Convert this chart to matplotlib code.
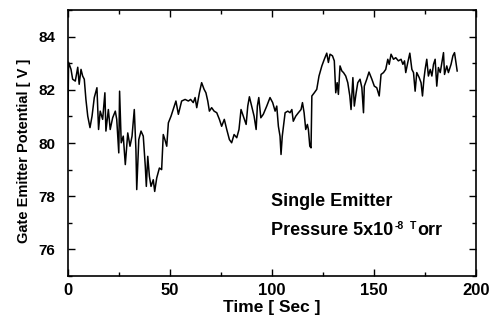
import matplotlib
matplotlib.use("Agg")
import matplotlib.pyplot as plt
from matplotlib.ticker import MultipleLocator

plt.rcParams['font.family'] = ['Liberation Sans', 'DejaVu Sans']

# time [s] and gate-emitter potential [V]
time_s = [0.0, 0.3, 1.5, 2.3, 3.6, 4.8, 5.5, 6.4, 7.2, 8.0, 8.8, 9.7, 10.8, 11.8,
          12.9, 14.2, 15.0, 15.8, 17.0, 18.1, 18.6, 19.8, 20.7, 21.9, 23.2, 23.9,
          24.9, 25.3, 26.1, 27.1, 28.1, 29.3, 30.4, 31.4, 32.5, 33.3, 33.7, 34.7,
          35.8, 36.9, 37.9, 38.4, 39.1, 39.9, 40.7, 41.8, 42.5, 43.5, 44.8, 45.9,
          46.7, 47.5, 48.4, 49.2, 50.5, 52.1, 52.9, 54.1, 55.7, 57.4, 59.0, 60.1,
          61.4, 62.3, 63.1, 64.4, 65.5, 66.7, 67.6, 68.5, 69.3, 70.4, 71.6, 72.9,
          74.2, 75.3, 76.6, 77.8, 79.1, 80.2, 81.4, 82.7, 83.8, 84.8, 85.9, 87.3,
          88.1, 88.9, 90.0, 91.2, 92.2, 92.8, 93.5, 94.5, 95.7, 97.4, 99.0, 100.3,
          101.5, 102.3, 103.1, 103.9, 104.4, 105.0, 106.4, 107.7, 108.8, 109.7,
          110.4, 111.6, 112.9, 114.2, 114.9, 115.7, 116.5, 117.3, 117.8, 118.5,
          119.1, 119.5, 120.7, 121.9, 123.0, 124.4, 125.6, 126.8, 127.6, 128.4,
          129.6, 130.5, 131.2, 131.9, 132.5, 133.3, 134.2, 135.0, 136.1, 137.1,
          138.1, 138.7, 139.6, 140.3, 141.2, 142.0, 143.1, 144.0, 144.8, 145.2,
          146.4, 147.5, 148.9, 150.1, 151.3, 152.5, 153.4, 154.6, 155.7, 156.7,
          157.4, 158.3, 159.5, 160.6, 161.9, 163.2, 164.1, 164.9, 165.5, 166.5,
          167.5, 168.5, 169.3, 170.1, 170.9, 172.1, 173.0, 173.7, 174.4, 175.0,
          175.8, 176.6, 177.5, 178.3, 179.1, 179.9, 180.7, 181.5, 182.4, 183.2,
          184.0, 184.5, 185.6, 186.4, 187.7, 188.6, 189.4, 190.0, 190.7]
potential_v = [81.0, 83.04, 82.77, 82.40, 82.33, 82.85, 82.21, 82.77, 82.52, 82.40,
               81.64, 81.01, 80.58, 81.01, 81.71, 82.08, 80.51, 81.20, 80.89, 81.89,
               80.45, 81.26, 80.51, 80.95, 81.20, 80.89, 79.63, 81.95, 80.01, 80.26,
               79.19, 80.38, 79.88, 80.26, 81.26, 79.75, 78.25, 80.13, 80.45, 80.26,
               79.12, 78.37, 79.50, 78.75, 78.37, 78.62, 78.18, 78.69, 79.06, 79.00,
               80.32, 80.13, 79.88, 80.76, 81.01, 81.39, 81.58, 81.08, 81.58, 81.64,
               81.58, 81.64, 81.52, 81.71, 81.33, 81.89, 82.27, 82.02, 81.89, 81.58,
               81.20, 81.33, 81.20, 81.14, 80.89, 80.63, 80.89, 80.51, 80.13, 80.01,
               80.32, 80.20, 80.51, 81.26, 81.01, 80.70, 81.39, 81.74, 81.39, 81.01,
               80.51, 81.39, 81.71, 80.95, 81.08, 81.39, 81.71, 81.52, 81.20, 81.39,
               80.63, 80.26, 79.57, 80.26, 81.14, 81.20, 81.14, 81.26, 80.82, 81.01,
               81.14, 81.26, 81.52, 81.14, 80.51, 80.70, 80.51, 79.88, 79.82, 81.77,
               81.89, 82.02, 82.52, 82.90, 83.15, 83.38, 83.03, 83.34, 83.28, 83.09,
               81.89, 82.27, 81.83, 82.90, 82.71, 82.65, 82.52, 82.27, 81.77, 81.26,
               82.46, 81.39, 81.89, 82.27, 82.40, 82.08, 81.14, 82.14, 82.40, 82.67,
               82.40, 82.14, 82.08, 81.77, 82.58, 82.65, 82.77, 83.15, 82.96, 83.34,
               83.15, 83.21, 83.09, 83.15, 82.96, 83.09, 82.65, 83.03, 83.38, 82.77,
               82.65, 81.95, 82.65, 82.46, 82.27, 81.77, 82.40, 82.77, 83.15, 82.52,
               82.77, 82.52, 82.96, 83.15, 82.14, 82.84, 82.65, 83.03, 83.40, 82.58,
               82.90, 82.65, 82.96, 83.28, 83.40, 83.09, 82.71]

x_ticks = [0, 50, 100, 150, 200]
y_ticks = [76, 78, 80, 82, 84]

fig = plt.figure(figsize=(4.96, 3.2), dpi=100)
ax = fig.add_axes([0.137, 0.1375, 0.823, 0.831])
ax.plot(time_s, potential_v, color='black', lw=1.1)

ax.set_xlim(0, 200)
ax.set_ylim(75, 85)
ax.set_xticks(x_ticks)
ax.set_yticks(y_ticks)
ax.xaxis.set_minor_locator(MultipleLocator(25))
ax.yaxis.set_minor_locator(MultipleLocator(1))
ax.tick_params(which='both', direction='in', top=True, right=True, width=1.0)
ax.tick_params(which='major', length=5)
ax.tick_params(which='minor', length=3)
ax.tick_params(axis='x', labelsize=12, pad=5)
ax.tick_params(axis='y', labelsize=11, pad=9)
for lab in ax.get_xticklabels() + ax.get_yticklabels():
    lab.set_fontweight('bold')
for sp in ax.spines.values():
    sp.set_linewidth(1.2)

ax.set_xlabel('Time [ Sec ]', fontsize=12.5, fontweight='bold')
ax.xaxis.set_label_coords(0.5, -0.09)
ax.set_ylabel('Gate Emitter Potential [ V ]', fontsize=10.5, fontweight='bold')
ax.yaxis.set_label_coords(-0.09, 0.47)

ax.text(0.498, 0.265, 'Single Emitter', transform=ax.transAxes,
        fontsize=13, fontweight='bold')
t1 = ax.text(0.498, 0.153, 'Pressure 5x10', transform=ax.transAxes,
             fontsize=13, fontweight='bold')
t2 = ax.annotate('-8', xy=(1, 1), xycoords=t1, xytext=(1, 1),
                 textcoords='offset points', va='top', ha='left',
                 fontsize=7.5, fontweight='bold')
t3 = ax.annotate('T', xy=(1, 1), xycoords=t2, xytext=(4, 0),
                 textcoords='offset points', va='top', ha='left',
                 fontsize=7.5, fontweight='bold')
ax.annotate('orr', xy=(1, 0), xycoords=(t3, t1), xytext=(1, 0),
            textcoords='offset points', va='bottom', ha='left',
            fontsize=13, fontweight='bold')

fig.savefig('out.png', dpi=100)
